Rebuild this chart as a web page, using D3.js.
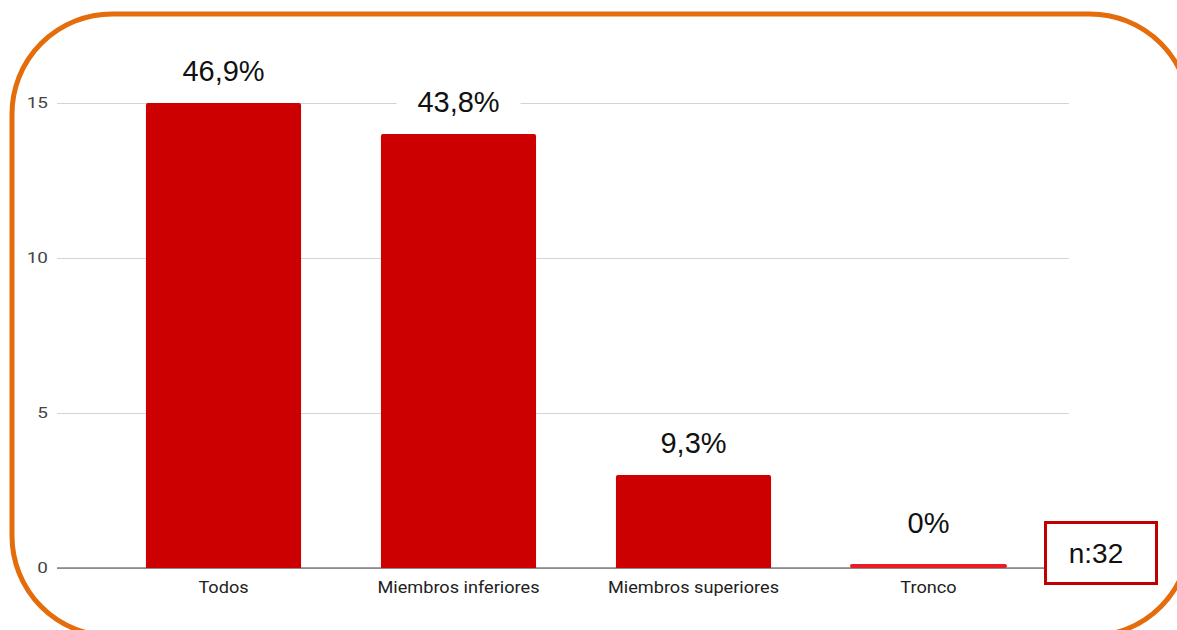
<!DOCTYPE html>
<html>
<head>
<meta charset="utf-8">
<script src="https://cdn.jsdelivr.net/npm/d3@7"></script>
<style>
  html, body { margin: 0; padding: 0; background: #fff; }
  svg { display: block; }
</style>
</head>
<body>
<script>
// Distribución por localización
const categories = ["Todos", "Miembros inferiores", "Miembros superiores", "Tronco"];
const counts = [15, 14, 3, 0];
const percentLabels = ["46,9%", "43,8%", "9,3%", "0%"];
const yTicks = [0, 5, 10, 15];
const sampleLabel = "n:32";

const W = 1177, H = 630;
const svg = d3.select("body").append("svg").attr("width", W).attr("height", H);

const plot = { left: 57, right: 1069, top: 103, bottom: 568 };

const x = d3.scaleBand()
  .domain(categories)
  .range([106, 1046])
  .paddingInner(0.34)
  .paddingOuter(0.17);

const y = d3.scaleLinear()
  .domain([0, 15])
  .range([plot.bottom, plot.top]);

// gridlines + tick labels
const yAxis = d3.axisLeft(y)
  .tickValues(yTicks)
  .tickSize(-(plot.right - plot.left))
  .tickPadding(9)
  .tickFormat(d3.format("d"));

const gAxis = svg.append("g")
  .attr("transform", `translate(${plot.left},0)`)
  .call(yAxis);
gAxis.select(".domain").remove();
gAxis.selectAll(".tick line").attr("stroke", "#d4d4d4").attr("stroke-width", 1);
gAxis.selectAll(".tick text")
  .attr("x", 0)
  .attr("transform", "translate(-9,0) scale(1.22,1)")
  .attr("fill", "#444")
  .attr("font-family", "Roboto, Arial, sans-serif")
  .attr("font-size", 15.5);

// baseline
svg.append("line")
  .attr("x1", plot.left).attr("x2", plot.right)
  .attr("y1", y(0)).attr("y2", y(0))
  .attr("stroke", "#444").attr("stroke-width", 1.2);

// bars
const bars = svg.append("g");
bars.selectAll("path.bar")
  .data(categories.map((c, i) => ({ c, v: counts[i] })))
  .join("path")
  .attr("class", "bar")
  .attr("fill", "#cc0000")
  .attr("d", d => {
    const x0 = x(d.c), w = x.bandwidth(), y0 = y(d.v), h = y(0) - y(d.v);
    if (h <= 0) return "";
    const r = 2;
    return `M${x0},${y0 + h}V${y0 + r}Q${x0},${y0} ${x0 + r},${y0}H${x0 + w - r}Q${x0 + w},${y0} ${x0 + w},${y0 + r}V${y0 + h}Z`;
  });

// zero-valued category shown as a thin highlight on the baseline
bars.selectAll("line.zero")
  .data(categories.map((c, i) => ({ c, v: counts[i] })).filter(d => d.v === 0))
  .join("line")
  .attr("class", "zero")
  .attr("x1", d => x(d.c) + 1).attr("x2", d => x(d.c) + x.bandwidth() - 1)
  .attr("y1", d => y(d.v) - 2).attr("y2", d => y(d.v) - 2)
  .attr("stroke", "#ec1c24").attr("stroke-width", 4)
  .attr("stroke-linecap", "round");

// percentage labels with white backing
const lbl = svg.append("g").selectAll("g")
  .data(categories.map((c, i) => ({ c, v: counts[i], t: percentLabels[i] })))
  .join("g")
  .attr("transform", d => `translate(${x(d.c) + x.bandwidth() / 2},${y(d.v) - (d.v === 0 ? 35 : 22)})`);
lbl.append("rect")
  .attr("x", -62).attr("y", -30).attr("width", 124).attr("height", 38)
  .attr("fill", "#fff");
lbl.append("text")
  .attr("text-anchor", "middle")
  .attr("font-family", "Liberation Sans, Arial, sans-serif")
  .attr("font-size", 29)
  .attr("fill", "#111")
  .text(d => d.t);

// category labels
svg.append("g").selectAll("text")
  .data(categories)
  .join("text")
  .attr("transform", d => `translate(${x(d) + x.bandwidth() / 2},593) scale(1.1,1)`)
  .attr("text-anchor", "middle")
  .attr("font-family", "Roboto, Arial, sans-serif")
  .attr("font-size", 16.5)
  .attr("fill", "#222")
  .text(d => d);

// sample size box
const nb = svg.append("g");
nb.append("rect")
  .attr("x", 1045.5).attr("y", 522.5).attr("width", 111).attr("height", 61)
  .attr("fill", "#fff").attr("stroke", "#c00000").attr("stroke-width", 3);
nb.append("text")
  .attr("x", 1096).attr("y", 563)
  .attr("text-anchor", "middle")
  .attr("font-family", "Liberation Sans, Arial, sans-serif")
  .attr("font-size", 28)
  .attr("fill", "#111")
  .text(sampleLabel);

// rounded orange frame
svg.append("rect")
  .attr("x", 12).attr("y", 14).attr("width", 1178).attr("height", 622)
  .attr("rx", 100).attr("ry", 100)
  .attr("fill", "none").attr("stroke", "#e46c0a").attr("stroke-width", 5);
</script>
</body>
</html>
